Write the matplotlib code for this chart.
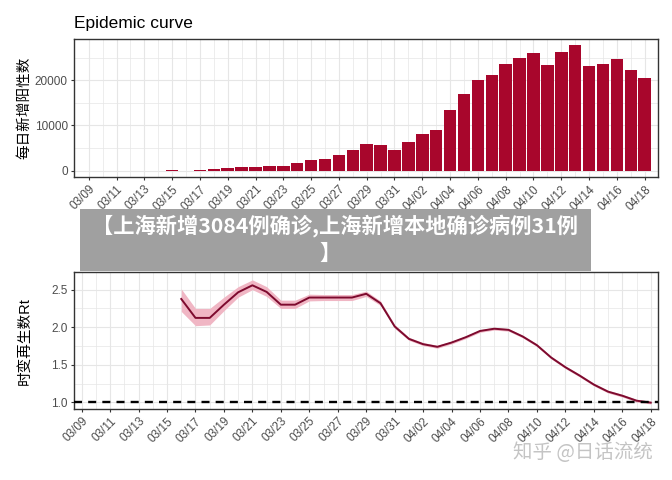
"""Shanghai epidemic curve and time-varying Rt, two stacked panels."""

import numpy as np
import pandas as pd
import matplotlib
matplotlib.use("Agg")
import matplotlib.pyplot as plt
import matplotlib.dates as mdates
from matplotlib.ticker import FixedLocator, FormatStrFormatter
from matplotlib.patches import Rectangle

plt.rcParams["font.family"] = ["Liberation Sans", "Noto Sans CJK SC", "DejaVu Sans"]

# daily new positives, 03/09 .. 04/18
case_dates = pd.date_range("2022-03-09", "2022-04-18", freq="D")
daily_cases = [0, 0, 0, 0, 0, 0, 202, 0, 260, 374, 509, 758, 896, 981, 983,
               1609, 2269, 2676, 3500, 4477, 5982, 5653, 4502, 6311, 8226, 9006,
               13354, 17077, 19982, 21222, 23624, 24943, 26087, 23342, 26330,
               27719, 23072, 23513, 24820, 22248, 20416]

# time-varying reproduction number, 03/16 .. 04/18
rt_dates = pd.date_range("2022-03-16", "2022-04-18", freq="D")
rt_mean = [2.376, 2.124, 2.124, 2.30, 2.465, 2.558, 2.47, 2.30, 2.30, 2.395,
           2.395, 2.395, 2.395, 2.445, 2.32, 2.01, 1.845, 1.774, 1.739, 1.796,
           1.867, 1.95, 1.98, 1.965, 1.876, 1.76, 1.596, 1.467, 1.356, 1.236,
           1.142, 1.088, 1.022, 0.996]
rt_lower = [2.21, 2.02, 2.03, 2.22, 2.40, 2.50, 2.41, 2.25, 2.25, 2.35,
            2.355, 2.355, 2.355, 2.41, 2.29, 1.985, 1.825, 1.755, 1.72, 1.778,
            1.849, 1.932, 1.962, 1.947, 1.858, 1.742, 1.578, 1.449, 1.338, 1.218,
            1.124, 1.070, 1.004, 0.978]
rt_upper = [2.51, 2.25, 2.25, 2.40, 2.54, 2.63, 2.54, 2.36, 2.36, 2.44,
            2.435, 2.435, 2.435, 2.48, 2.35, 2.035, 1.865, 1.795, 1.76, 1.814,
            1.885, 1.968, 1.998, 1.983, 1.894, 1.778, 1.614, 1.485, 1.374, 1.254,
            1.160, 1.106, 1.040, 1.014]

title = "Epidemic curve"
ylabel_cases = "每日新增阳性数"
ylabel_rt = "时变再生数Rt"
banner_line1 = "【上海新增3084例确诊,上海新增本地确诊病例31例"
banner_line2 = "】"
watermark = "知乎 @日话流统"

BAR_COLOR = "#A8062C"
LINE_COLOR = "#7D0A2E"
RIBBON_COLOR = "#F0B6C4"
GRID_COLOR = "#E6E6E6"
BORDER_COLOR = "#333333"
TICK_TEXT = "#4D4D4D"

x_cases = mdates.date2num(case_dates)
x_rt = mdates.date2num(rt_dates)


def style_axis(ax, xlo, xhi):
    ax.set_xlim(xlo, xhi)
    # labelled ticks every second day starting 03/09, grid line every day
    ax.xaxis.set_major_locator(FixedLocator(x_cases[::2]))
    ax.xaxis.set_minor_locator(FixedLocator(x_cases[1::2]))
    ax.xaxis.set_major_formatter(mdates.DateFormatter("%m/%d"))
    ax.grid(which="major", color=GRID_COLOR, linewidth=0.8)
    ax.grid(which="minor", color=GRID_COLOR, linewidth=0.5)
    ax.set_axisbelow(True)
    for sp in ax.spines.values():
        sp.set_color(BORDER_COLOR)
        sp.set_linewidth(1.0)
    ax.tick_params(which="major", length=2.5, width=0.8, color=BORDER_COLOR,
                   labelsize=8.5, labelcolor=TICK_TEXT, pad=2)
    ax.tick_params(which="minor", length=0)
    for lab in ax.get_xticklabels():
        lab.set_rotation(45)
        lab.set_ha("right")
        lab.set_va("top")
        lab.set_rotation_mode("anchor")


fig = plt.figure(figsize=(6.72, 4.8), dpi=100)

# top panel: bars
ax1 = fig.add_axes([0.1101, 0.63125, 0.8691, 0.2875])
ax1.bar(x_cases, daily_cases, width=0.9, color=BAR_COLOR, linewidth=0)
ax1.set_ylim(-1394, 29137)
ax1.set_yticks([0, 10000, 20000])
ax1.set_yticks([5000, 15000, 25000], minor=True)
style_axis(ax1, x_cases[0] - 1.06, x_cases[-1] + 0.96)
ax1.set_ylabel(ylabel_cases, fontsize=10.5, color="black")
ax1.yaxis.set_label_coords(-0.073, 0.5)
ax1.set_title(title, loc="left", fontsize=12.5, pad=8)

# bottom panel: Rt
ax2 = fig.add_axes([0.1101, 0.1479, 0.8691, 0.2848])
ax2.fill_between(x_rt, rt_lower, rt_upper, color=RIBBON_COLOR, linewidth=0, zorder=2)
ax2.plot(x_rt, rt_mean, color=LINE_COLOR, linewidth=1.4, zorder=3)
ax2.axhline(1.0, color="black", linewidth=1.7, dashes=(3.4, 2.6), zorder=4)
ax2.set_ylim(0.911, 2.731)
ax2.set_yticks([1.0, 1.5, 2.0, 2.5])
ax2.set_yticks([1.25, 1.75, 2.25], minor=True)
ax2.yaxis.set_major_formatter(FormatStrFormatter("%.1f"))
style_axis(ax2, x_cases[0] - 0.54, x_cases[-1] + 0.51)
ax2.set_ylabel(ylabel_rt, fontsize=10.5, color="black")
ax2.yaxis.set_label_coords(-0.072, 0.5)

# grey banner with caption over the middle
fig.patches.append(Rectangle((80 / 672, 1 - 271 / 480), 511 / 672, 62 / 480,
                             transform=fig.transFigure, facecolor="#A0A0A0",
                             edgecolor="none", zorder=10))
fig.text(335 / 672, 1 - 226 / 480, banner_line1, ha="center", va="center",
         fontsize=15.3, fontweight="heavy", color="white",
         family=["Noto Sans CJK SC", "DejaVu Sans"], zorder=11)
fig.text(330 / 672, 1 - 253 / 480, banner_line2, ha="center", va="center",
         fontsize=15.3, fontweight="heavy", color="white",
         family=["Noto Sans CJK SC", "DejaVu Sans"], zorder=11)

fig.text(583 / 672, 1 - 452 / 480, watermark, ha="center", va="center",
         fontsize=14, color="#C4C4C4", family=["Noto Sans CJK SC", "DejaVu Sans"],
         zorder=11)

fig.savefig("out.png", dpi=100)
